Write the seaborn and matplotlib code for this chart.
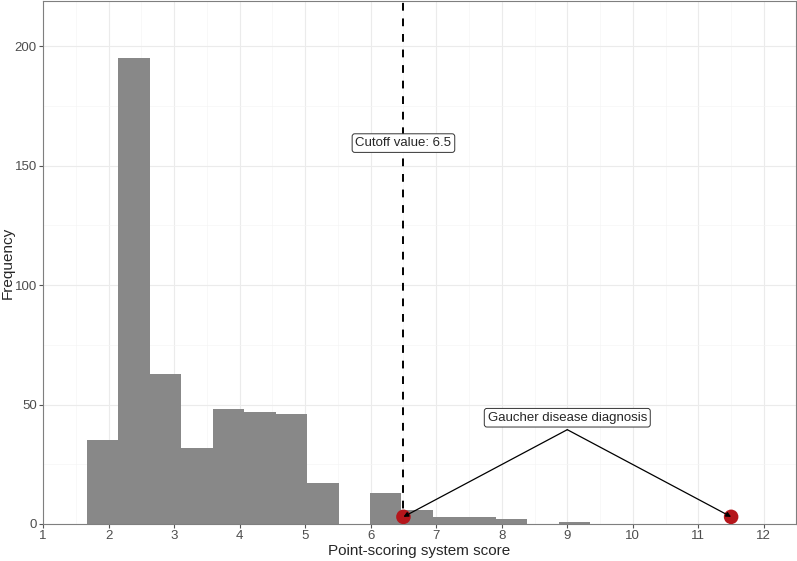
import numpy as np
import pandas as pd
import matplotlib
matplotlib.use("Agg")
import matplotlib.pyplot as plt
import seaborn as sns

# histogram bins (left edge of first bin, width) and counts per bin
bin_start = 1.67
bin_width = 0.48
counts = [35, 195, 63, 32, 48, 47, 46, 17, 0, 13, 6, 3, 3, 2, 0, 1]

# Gaucher disease patients
gaucher_score = [6.5, 11.5]
gaucher_freq = [3, 3]

cutoff = 6.5
x_ticks = list(range(1, 13))
y_ticks = [0, 50, 100, 150, 200]

edges = bin_start + bin_width * np.arange(len(counts) + 1)
df = pd.DataFrame({"score": (edges[:-1] + edges[1:]) / 2, "n": counts})

sns.set_style("whitegrid")
plt.rcParams["font.family"] = ["Liberation Sans", "DejaVu Sans"]

fig = plt.figure(figsize=(7.97, 5.61), dpi=100)
ax = fig.add_axes([43 / 797, 37 / 561, 753 / 797, 523 / 561])

sns.histplot(data=df, x="score", weights="n", binwidth=bin_width,
             binrange=(edges[0], edges[-1]), color="#888888",
             alpha=1, edgecolor="none", linewidth=0, ax=ax, zorder=2)

ax.axvline(cutoff, color="black", linestyle=(0, (4, 4)), linewidth=1.4, zorder=3)

sns.scatterplot(x=gaucher_score, y=gaucher_freq, color="#B5161B", s=110,
                edgecolor="none", ax=ax, zorder=5)

for gx, gy in zip(gaucher_score, gaucher_freq):
    ax.annotate("", xy=(gx, gy), xytext=(9, 39.5),
                arrowprops=dict(arrowstyle="-|>", color="black", lw=0.9,
                                mutation_scale=7, shrinkA=0, shrinkB=0), zorder=6)

ax.text(9, 44.5, "Gaucher disease diagnosis", ha="center", va="center",
        fontsize=9.5, bbox=dict(boxstyle="round,pad=0.25,rounding_size=0.2",
                                fc="white", ec="#333333", lw=0.7), zorder=7)
ax.text(cutoff, 159.5, "Cutoff value: 6.5", ha="center", va="center",
        fontsize=9.5, bbox=dict(boxstyle="round,pad=0.25,rounding_size=0.2",
                                fc="white", ec="#333333", lw=0.7), zorder=7)

ax.set_xlim(1, 12.49)
ax.set_ylim(0, 219)
ax.set_xticks(x_ticks)
ax.set_yticks(y_ticks)
ax.set_xticks(np.arange(1.5, 12.5, 1), minor=True)
ax.set_yticks([25, 75, 125, 175], minor=True)
ax.grid(which="major", color="#EBEBEB", linewidth=0.8)
ax.grid(which="minor", color="#F5F5F5", linewidth=0.5)
ax.set_axisbelow(True)

for s in ax.spines.values():
    s.set_color("#7F7F7F")
    s.set_linewidth(0.8)

ax.tick_params(axis="both", which="major", length=3, color="#555555",
               labelsize=9.5, labelcolor="#4D4D4D", bottom=True, left=True, pad=1.5)
ax.tick_params(which="minor", length=0)
ax.set_xlabel("Point-scoring system score", fontsize=11, va="center")
ax.set_ylabel("Frequency", fontsize=11, va="center")
ax.xaxis.set_label_coords(0.5, -0.052)
ax.yaxis.set_label_coords(-0.047, 0.5)

fig.savefig("out.png", dpi=100)
